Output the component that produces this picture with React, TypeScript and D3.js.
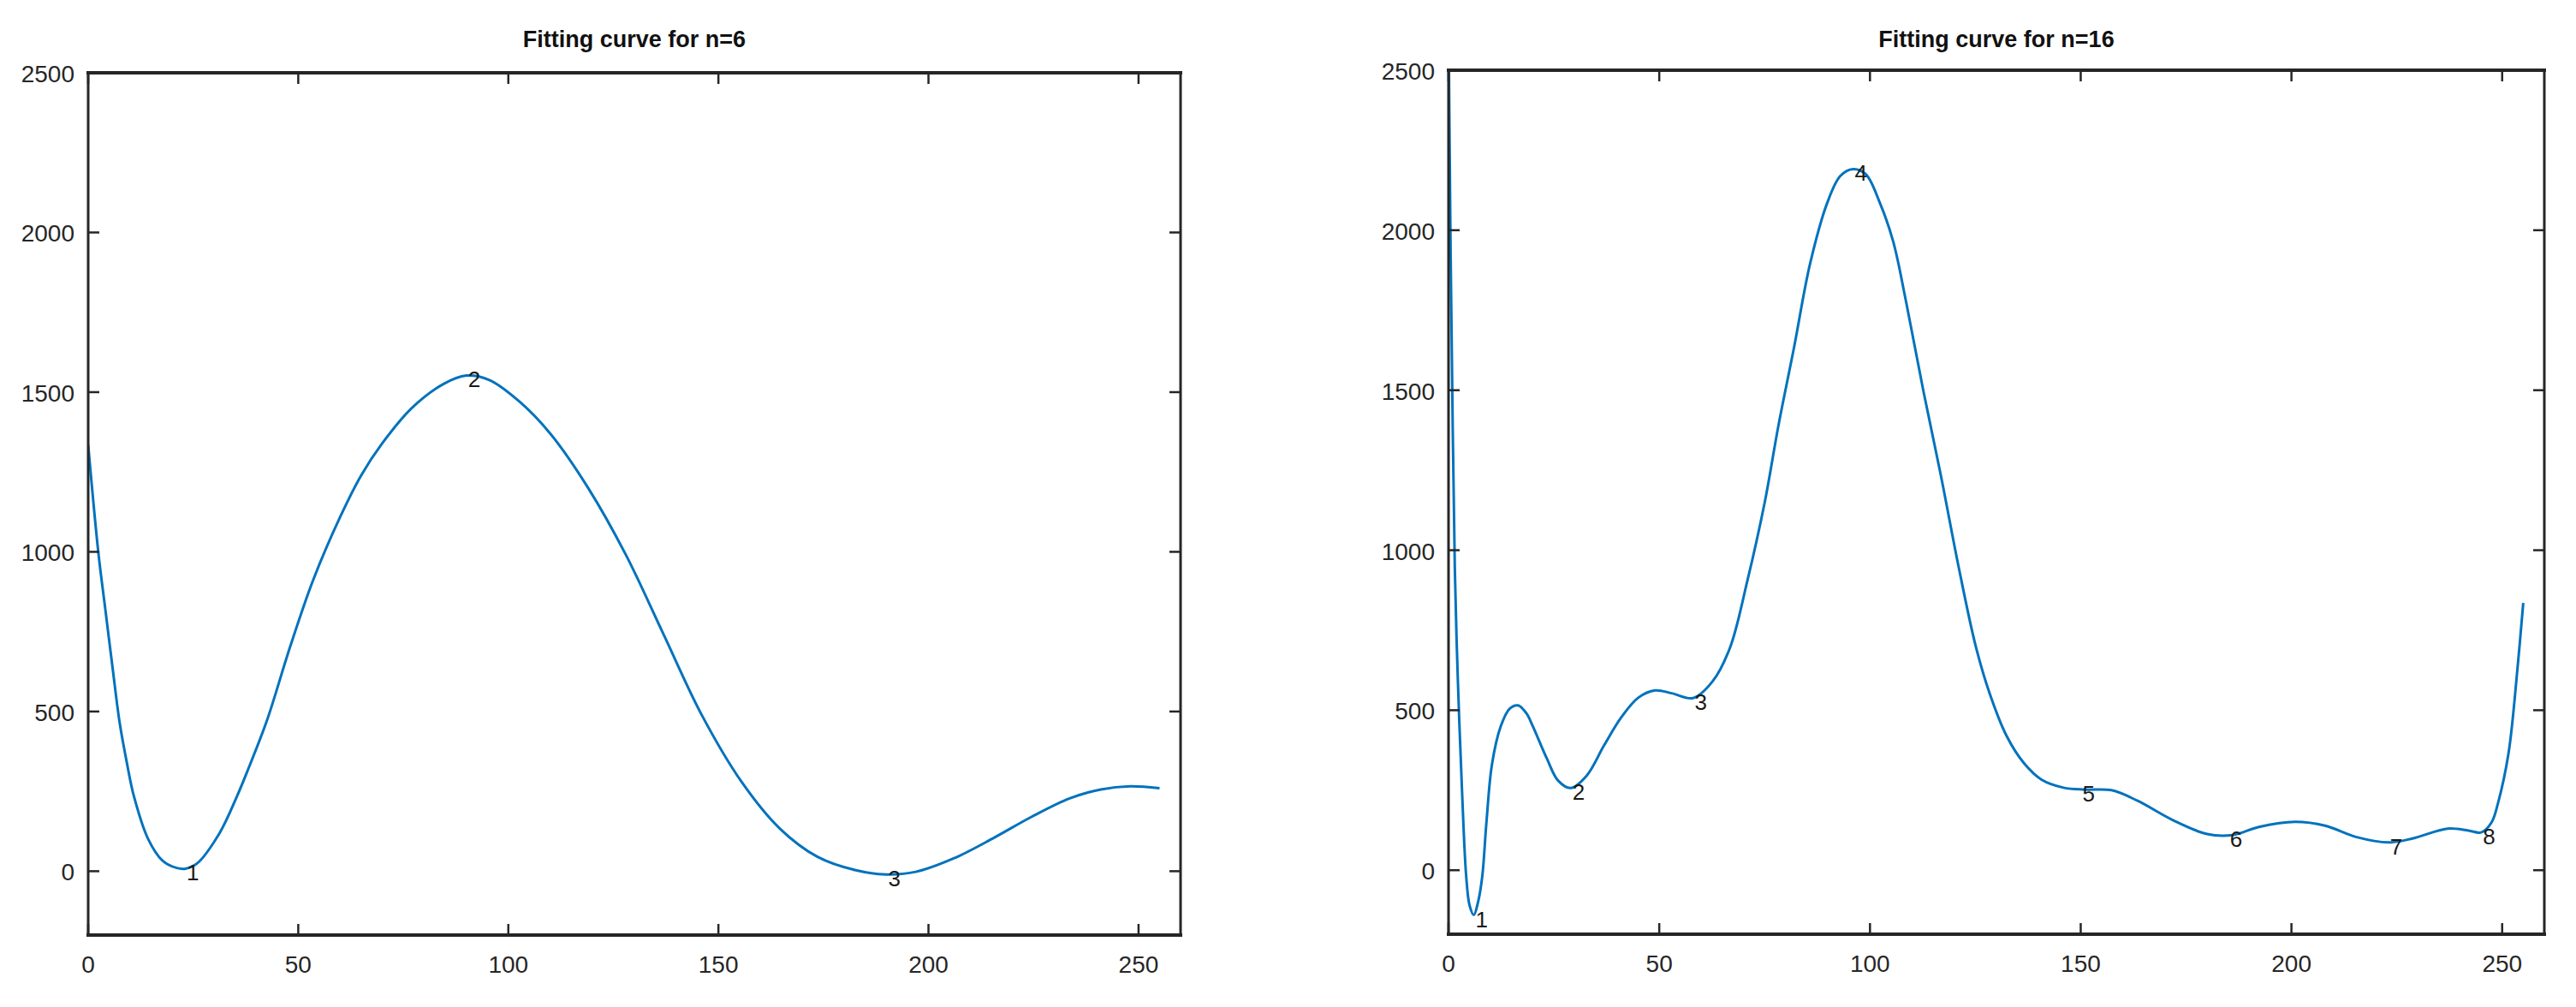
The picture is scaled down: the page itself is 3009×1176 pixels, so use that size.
import React, { useEffect, useRef } from "react";
import { select, scaleLinear, line, curveCatmullRom } from "d3";

// ---- data ----
const titles = ["Fitting curve for n=6", "Fitting curve for n=16"];
const xTicks = [0, 50, 100, 150, 200, 250];
const yTicks = [0, 500, 1000, 1500, 2000, 2500];

const n6X = [0, 2.4, 4.1, 5.9, 7.5, 9.2, 10.9, 14.3, 17.7, 21.1, 23.2, 25.9, 31.3, 35.4, 38.1, 42.5, 48, 53.5, 60, 65, 70, 77, 84.5, 90, 95.5, 102.7, 110, 119, 128, 137, 146, 155.5, 164.5, 173.6, 182.7, 190, 197, 206, 215.5, 224.5, 233.6, 241, 248, 255];
const n6Y = [1335, 1000, 818, 627, 464, 340, 234, 100, 33, 10, 8, 24, 120, 234, 320, 470, 700, 910, 1110, 1240, 1340, 1450, 1525, 1552, 1538, 1470, 1370, 1200, 990, 740, 490, 280, 135, 45, 3, -10, -2, 40, 104, 170, 228, 256, 266, 260];

const n16X = [0, 0.5, 1, 1.5, 2.2, 3.2, 4.2, 5, 6, 7, 8, 9, 10.3, 12.4, 14.5, 16.5, 18.5, 20, 23.3, 26, 29, 32.8, 36.9, 41, 45, 49, 53, 58, 62.7, 66.8, 70.9, 75, 78.3, 82, 85.8, 89.9, 93, 96, 99, 102.3, 105.5, 108.6, 112.7, 116.8, 121, 125, 128.2, 132.4, 136.5, 140.7, 145.9, 151, 157.3, 163.5, 171.8, 180, 186, 192.5, 200.8, 208, 215.3, 223, 228.7, 237, 242, 245, 247.5, 249, 251.5, 253.6, 255];
const n16Y = [2650, 1930, 1380, 940, 600, 250, -20, -110, -140, -100, -20, 150, 330, 450, 505, 515, 490, 450, 350, 280, 257, 296, 390, 478, 539, 562, 553, 538, 591, 696, 904, 1148, 1391, 1635, 1896, 2087, 2170, 2191, 2175, 2087, 1965, 1774, 1496, 1235, 950, 705, 560, 420, 335, 283, 258, 252, 250, 217, 157, 113, 110, 136, 151, 139, 104, 87, 99, 130, 124, 118, 150, 209, 365, 626, 835];

// numbered extrema
const n6MarkX = [23, 90, 190];
const n6MarkY = [8, 1553, -10];
const n16MarkX = [6, 29, 58, 96, 150, 185, 223, 245];
const n16MarkY = [-140, 257, 538, 2191, 252, 110, 87, 118];

const panels = [
    { title: titles[0], xs: n6X, ys: n6Y, mx: n6MarkX, my: n6MarkY, left: 103, right: 1379, top: 85, bottom: 1092 },
    { title: titles[1], xs: n16X, ys: n16Y, mx: n16MarkX, my: n16MarkY, left: 1692, right: 2972, top: 82, bottom: 1091 },
];

const FONT = "'Liberation Sans', Arial, Helvetica, sans-serif";
const AXIS = "#262626";

export default function App() {
    const svgRef = useRef<SVGSVGElement | null>(null);

    useEffect(() => {
        const svg = select(svgRef.current);
        svg.selectAll("*").remove();

        panels.forEach((p, pi) => {
            const x = scaleLinear().domain([0, 260]).range([p.left, p.right]);
            const y = scaleLinear().domain([-200, 2500]).range([p.bottom, p.top]);
            const g = svg.append("g");

            g.append("defs")
                .append("clipPath")
                .attr("id", `clip${pi}`)
                .append("rect")
                .attr("x", p.left)
                .attr("y", p.top)
                .attr("width", p.right - p.left)
                .attr("height", p.bottom - p.top);

            // curve
            const pts = p.xs.map((v, i) => [v, p.ys[i]] as [number, number]);
            const lineGen = line<[number, number]>()
                .x((d) => x(d[0]))
                .y((d) => y(d[1]))
                .curve(curveCatmullRom.alpha(0.5));
            g.append("path")
                .datum(pts)
                .attr("clip-path", `url(#clip${pi})`)
                .attr("fill", "none")
                .attr("stroke", "#0072BD")
                .attr("stroke-width", 3)
                .attr("d", lineGen);

            // box
            const box = [
                [p.left, p.top, p.right, p.top, 4],
                [p.left, p.bottom, p.right, p.bottom, 4],
                [p.left, p.top, p.left, p.bottom, 3],
                [p.right, p.top, p.right, p.bottom, 3],
            ];
            box.forEach((b) => {
                g.append("line")
                    .attr("x1", b[0]).attr("y1", b[1])
                    .attr("x2", b[2]).attr("y2", b[3])
                    .attr("stroke", AXIS)
                    .attr("stroke-width", b[4])
                    .attr("stroke-linecap", "square");
            });

            // ticks (inward, mirrored)
            const tl = 13;
            xTicks.forEach((t) => {
                g.append("line").attr("x1", x(t)).attr("x2", x(t))
                    .attr("y1", p.bottom).attr("y2", p.bottom - tl)
                    .attr("stroke", AXIS).attr("stroke-width", 2.5);
                g.append("line").attr("x1", x(t)).attr("x2", x(t))
                    .attr("y1", p.top).attr("y2", p.top + tl)
                    .attr("stroke", AXIS).attr("stroke-width", 2.5);
                g.append("text")
                    .attr("x", x(t))
                    .attr("y", p.bottom + 44)
                    .attr("text-anchor", "middle")
                    .attr("font-family", FONT)
                    .attr("font-size", 28)
                    .attr("fill", AXIS)
                    .text(t);
            });
            yTicks.forEach((t) => {
                g.append("line").attr("x1", p.left).attr("x2", p.left + tl)
                    .attr("y1", y(t)).attr("y2", y(t))
                    .attr("stroke", AXIS).attr("stroke-width", 2.5);
                g.append("line").attr("x1", p.right).attr("x2", p.right - tl)
                    .attr("y1", y(t)).attr("y2", y(t))
                    .attr("stroke", AXIS).attr("stroke-width", 2.5);
                g.append("text")
                    .attr("x", p.left - 16)
                    .attr("y", y(t) + 11)
                    .attr("text-anchor", "end")
                    .attr("font-family", FONT)
                    .attr("font-size", 28)
                    .attr("fill", AXIS)
                    .text(t);
            });

            // numbered extrema
            p.mx.forEach((v, i) => {
                g.append("text")
                    .attr("x", x(v) + 2)
                    .attr("y", y(p.my[i]) + 14)
                    .attr("font-family", FONT)
                    .attr("font-size", 26)
                    .attr("fill", "#1a1a1a")
                    .text(i + 1);
            });

            // title
            g.append("text")
                .attr("x", (p.left + p.right) / 2)
                .attr("y", 55)
                .attr("text-anchor", "middle")
                .attr("font-family", FONT)
                .attr("font-size", 27)
                .attr("font-weight", "bold")
                .attr("fill", "#111")
                .text(p.title);
        });
    }, []);

    return (
        <svg
            ref={svgRef}
            width={3009}
            height={1176}
            style={{ position: "absolute", left: 0, top: 0, background: "#fff" }}
        />
    );
}
